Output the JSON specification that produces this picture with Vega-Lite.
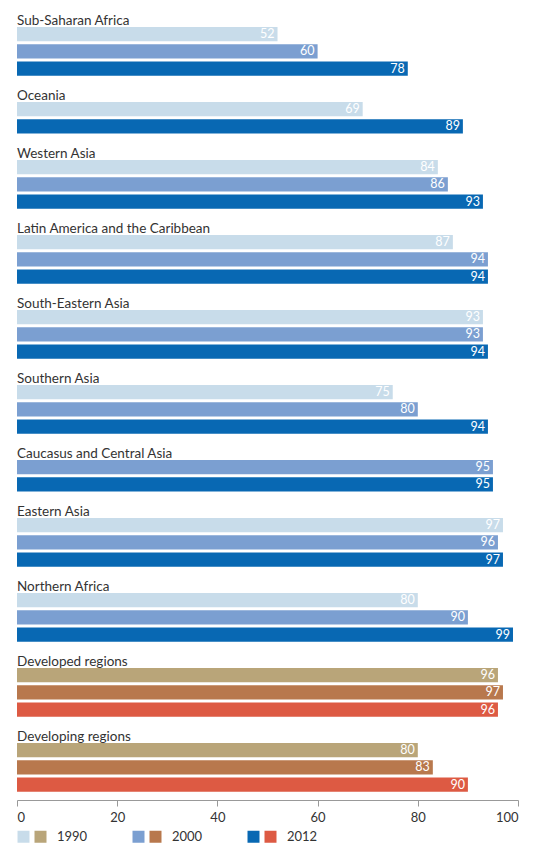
{
  "$schema": "https://vega.github.io/schema/vega-lite/v6.json",
  "padding": {"left": 16, "top": 13, "right": 14, "bottom": 0},
  "background": "white",
  "config": {
    "font": "Lato",
    "view": {"stroke": null},
    "legend": {"labelFont": "Lato"},
    "header": {"labelFont": "Lato"}
  },
  "data": {
    "values": [
      {"region": "Sub-Saharan Africa", "year": "1990", "series": "r1990", "value": 52},
      {"region": "Sub-Saharan Africa", "year": "2000", "series": "r2000", "value": 60},
      {"region": "Sub-Saharan Africa", "year": "2012", "series": "r2012", "value": 78},
      {"region": "Oceania", "year": "1990", "series": "r1990", "value": 69},
      {"region": "Oceania", "year": "2012", "series": "r2012", "value": 89},
      {"region": "Western Asia", "year": "1990", "series": "r1990", "value": 84},
      {"region": "Western Asia", "year": "2000", "series": "r2000", "value": 86},
      {"region": "Western Asia", "year": "2012", "series": "r2012", "value": 93},
      {"region": "Latin America and the Caribbean", "year": "1990", "series": "r1990", "value": 87},
      {"region": "Latin America and the Caribbean", "year": "2000", "series": "r2000", "value": 94},
      {"region": "Latin America and the Caribbean", "year": "2012", "series": "r2012", "value": 94},
      {"region": "South-Eastern Asia", "year": "1990", "series": "r1990", "value": 93},
      {"region": "South-Eastern Asia", "year": "2000", "series": "r2000", "value": 93},
      {"region": "South-Eastern Asia", "year": "2012", "series": "r2012", "value": 94},
      {"region": "Southern Asia", "year": "1990", "series": "r1990", "value": 75},
      {"region": "Southern Asia", "year": "2000", "series": "r2000", "value": 80},
      {"region": "Southern Asia", "year": "2012", "series": "r2012", "value": 94},
      {"region": "Caucasus and Central Asia", "year": "2000", "series": "r2000", "value": 95},
      {"region": "Caucasus and Central Asia", "year": "2012", "series": "r2012", "value": 95},
      {"region": "Eastern Asia", "year": "1990", "series": "r1990", "value": 97},
      {"region": "Eastern Asia", "year": "2000", "series": "r2000", "value": 96},
      {"region": "Eastern Asia", "year": "2012", "series": "r2012", "value": 97},
      {"region": "Northern Africa", "year": "1990", "series": "r1990", "value": 80},
      {"region": "Northern Africa", "year": "2000", "series": "r2000", "value": 90},
      {"region": "Northern Africa", "year": "2012", "series": "r2012", "value": 99},
      {"region": "Developed regions", "year": "1990", "series": "d1990", "value": 96},
      {"region": "Developed regions", "year": "2000", "series": "d2000", "value": 97},
      {"region": "Developed regions", "year": "2012", "series": "d2012", "value": 96},
      {"region": "Developing regions", "year": "1990", "series": "d1990", "value": 80},
      {"region": "Developing regions", "year": "2000", "series": "d2000", "value": 83},
      {"region": "Developing regions", "year": "2012", "series": "d2012", "value": 90}
    ]
  },
  "facet": {
    "field": "region",
    "type": "nominal",
    "sort": ["Sub-Saharan Africa", "Oceania", "Western Asia", "Latin America and the Caribbean", "South-Eastern Asia", "Southern Asia", "Caucasus and Central Asia", "Eastern Asia", "Northern Africa", "Developed regions", "Developing regions"],
    "header": {
      "title": null,
      "labelOrient": "top",
      "labelAnchor": "start",
      "labelAlign": "left",
      "labelFontSize": 13.5,
      "labelColor": "#333333",
      "labelPadding": 0
    }
  },
  "columns": 1,
  "spacing": 12,
  "resolve": {"scale": {"y": "independent"}},
  "spec": {
    "width": 501,
    "height": {"step": 17.3},
    "encoding": {
      "y": {"field": "year", "type": "ordinal", "axis": null, "scale": {"paddingInner": 0.18, "paddingOuter": 0}},
      "x": {
        "field": "value", "type": "quantitative",
        "scale": {"domain": [0, 100], "nice": false},
        "axis": {"title": null, "values": [0, 20, 40, 60, 80, 100], "grid": false, "domainColor": "#999999", "tickColor": "#999999", "tickSize": 6, "labelFontSize": 13, "labelColor": "#333333", "labelPadding": 5, "offset": 8}
      }
    },
    "layer": [
      {
        "mark": {"type": "bar"},
        "encoding": {
          "color": {
            "field": "series", "type": "nominal",
            "scale": {
              "domain": ["r1990", "d1990", "r2000", "d2000", "r2012", "d2012"],
              "range": ["#c8dcea", "#b9a579", "#7b9fd1", "#b8784d", "#0868b3", "#dd5a43"]
            },
            "legend": {
              "title": null,
              "orient": "bottom",
              "direction": "horizontal",
              "symbolType": "square",
              "symbolSize": 144,
              "symbolStrokeWidth": 0,
              "symbolOpacity": 1,
              "labelOffset": 0,
              "columnPadding": 4,
              "labelFontSize": 13,
              "labelColor": "#333333",
              "labelExpr": "datum.value[0] == 'd' ? '\u2800' + substring(datum.value, 1) + '\u2800\u2800\u2800\u2800' : ''",
              "offset": 6
            }
          }
        }
      },
      {
        "mark": {"type": "text", "align": "right", "baseline": "middle", "dx": -3, "color": "white", "fontSize": 12.5},
        "encoding": {"text": {"field": "value", "type": "quantitative"}}
      }
    ]
  }
}
